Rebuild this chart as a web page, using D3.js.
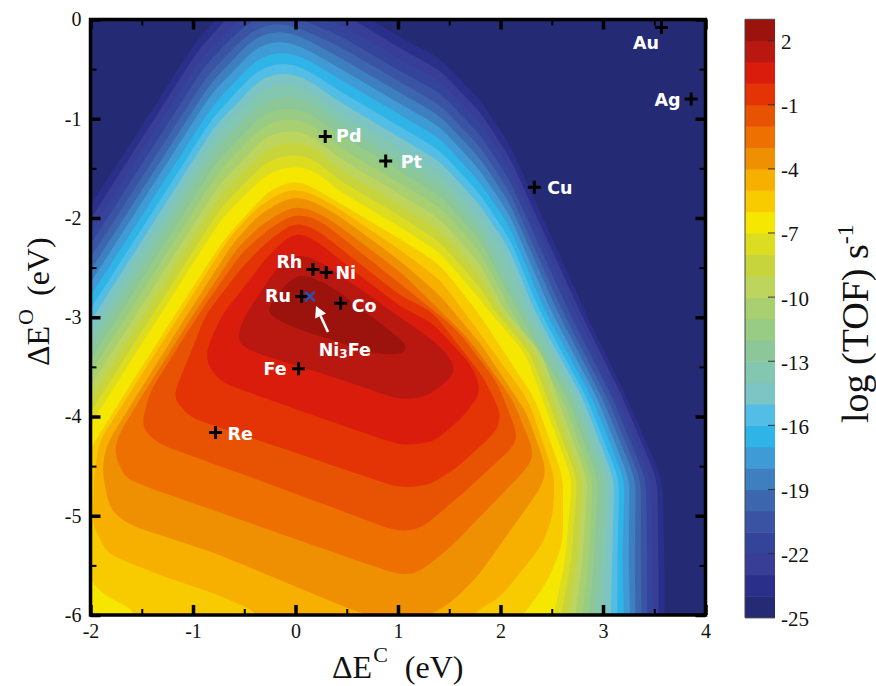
<!DOCTYPE html>
<html><head><meta charset="utf-8">
<style>
html,body{margin:0;padding:0;background:#fff}
svg{display:block}
text{font-family:"Liberation Serif",serif;fill:#111}
.elem{font-family:"DejaVu Sans",sans-serif;font-weight:bold;font-size:17.5px;fill:#fff}
</style>
<script src="https://cdnjs.cloudflare.com/ajax/libs/d3/7.8.5/d3.min.js"></script>
</head><body>
<svg id="chart" width="876" height="686"></svg>
<script>
// log(TOF) level of the lower edge of each band, from -25 to 2
const bandFloors = d3.range(-25, 3);
const bandColors = ["#252a74","#2a2f8a","#383e96","#35449b","#3a54a3","#3c66ad","#3e7fc0","#3f9bd5","#2fb4e8","#52bde5","#7dc4c4","#84c7b0","#8cc79a","#98cc84","#a9d070","#bdd55c","#c7d43c","#dcdc20","#f6e700","#f8cb00","#f7af00","#ee9002","#ee7001","#e85203","#e43304","#da1c0c","#b91810","#9c120c"];
const colorTicks = [2,-1,-4,-7,-10,-13,-16,-19,-22,-25];
const xTicks = [-2,-1,0,1,2,3,4];
const yTicks = [0,-1,-2,-3,-4,-5,-6];
const xMinor = [-1.5,-0.5,0.5,1.5,2.5,3.5];
const yMinor = [-0.5,-1.5,-2.5,-3.5,-4.5,-5.5];
const offPlotCorner = [-2.4,-6.45];

// contour lines, [dE_C, dE_O] in eV
const cM24=[[-2.40,-2.52],[-.97,-.22],[-.70,.09],[-.45,.27],[-.24,.34],[-.02,.29],[.43,.19],[1.02,-.18],[1.41,-.39],[1.80,-.81],[2.09,-1.26],[2.82,-2.93],[3.24,-3.83],[3.58,-4.64],[3.60,-5.45],[3.60,-6.25]];
const cM23=[[-2.40,-2.66],[-.95,-.31],[-.68,0],[-.44,.18],[-.23,.25],[-.01,.20],[.43,.08],[1.02,-.29],[1.41,-.51],[1.80,-.93],[2.09,-1.39],[2.77,-2.93],[3.20,-3.83],[3.53,-4.64],[3.54,-5.45],[3.54,-6.25]];
const cM22=[[-2.40,-2.79],[-.93,-.40],[-.65,-.10],[-.42,.09],[-.21,.16],[0,.11],[.43,-.04],[1.02,-.40],[1.41,-.62],[1.80,-1.04],[2.09,-1.50],[2.72,-2.93],[3.15,-3.83],[3.47,-4.64],[3.48,-5.45],[3.49,-6.25]];
const cM21=[[-2.40,-2.91],[-.90,-.49],[-.63,-.19],[-.41,0],[-.20,.07],[.01,.02],[.43,-.16],[1.02,-.52],[1.41,-.74],[1.80,-1.16],[2.09,-1.62],[2.66,-2.93],[3.10,-3.83],[3.42,-4.64],[3.43,-5.45],[3.43,-6.25]];
const cM20=[[-2.40,-3.04],[-.87,-.58],[-.60,-.28],[-.40,-.10],[-.19,-.03],[.02,-.08],[.43,-.27],[1.02,-.63],[1.41,-.86],[1.80,-1.28],[2.09,-1.74],[2.60,-2.93],[3.05,-3.83],[3.37,-4.64],[3.37,-5.45],[3.38,-6.25]];
const cM19=[[-2.40,-3.17],[-.84,-.66],[-.57,-.36],[-.40,-.18],[-.18,-.11],[.03,-.16],[.43,-.38],[1.02,-.74],[1.41,-.97],[1.80,-1.40],[2.09,-1.85],[2.55,-2.93],[3.00,-3.83],[3.32,-4.64],[3.31,-5.45],[3.32,-6.25]];
const cM18=[[-2.40,-3.30],[-.83,-.76],[-.55,-.46],[-.39,-.28],[-.17,-.21],[.04,-.26],[.43,-.49],[1.02,-.85],[1.41,-1.08],[1.80,-1.52],[2.09,-1.97],[2.49,-2.93],[2.95,-3.83],[3.26,-4.64],[3.25,-5.45],[3.27,-6.25]];
const cM17=[[-2.40,-3.43],[-.81,-.87],[-.54,-.57],[-.37,-.39],[-.15,-.32],[.06,-.37],[.43,-.60],[1.02,-.96],[1.41,-1.20],[1.80,-1.64],[2.09,-2.09],[2.43,-2.93],[2.90,-3.83],[3.21,-4.64],[3.19,-5.45],[3.21,-6.25]];
const cM16=[[-2.40,-3.56],[-.80,-.98],[-.53,-.68],[-.36,-.50],[-.14,-.43],[.07,-.48],[.43,-.72],[1.02,-1.08],[1.41,-1.32],[1.80,-1.76],[2.09,-2.21],[2.38,-2.93],[2.85,-3.83],[3.16,-4.64],[3.14,-5.45],[3.14,-6.25]];
const cM15=[[-2.40,-3.69],[-.79,-1.08],[-.51,-.78],[-.35,-.60],[-.13,-.53],[.08,-.58],[.43,-.83],[1.02,-1.19],[1.41,-1.43],[1.80,-1.87],[2.09,-2.32],[2.33,-2.93],[2.81,-3.83],[3.11,-4.64],[3.09,-5.45],[3.07,-6.25]];
const cM14=[[-2.40,-3.82],[-.78,-1.19],[-.50,-.89],[-.34,-.71],[-.12,-.64],[.09,-.69],[.43,-.94],[1.02,-1.30],[1.41,-1.55],[1.80,-1.99],[2.07,-2.44],[2.27,-2.93],[2.76,-3.83],[3.06,-4.64],[3.03,-5.45],[2.99,-6.25]];
const cM13=[[-2.40,-3.95],[-.78,-1.31],[-.50,-1.01],[-.32,-.83],[-.10,-.76],[.11,-.81],[.43,-1.05],[1.02,-1.42],[1.41,-1.67],[1.80,-2.11],[2.21,-2.93],[2.71,-3.83],[3.01,-4.64],[2.97,-5.45],[2.92,-6.25]];
const cM12=[[-2.40,-4.08],[-.77,-1.44],[-.49,-1.13],[-.31,-.95],[-.09,-.88],[.12,-.93],[.43,-1.16],[1.02,-1.53],[1.41,-1.78],[1.80,-2.22],[2.16,-2.93],[2.66,-3.83],[2.95,-4.64],[2.91,-5.45],[2.84,-6.25]];
const cM11=[[-2.40,-4.21],[-.76,-1.55],[-.48,-1.24],[-.30,-1.06],[-.08,-.99],[.13,-1.04],[.43,-1.29],[1.02,-1.65],[1.41,-1.89],[1.80,-2.34],[2.10,-2.93],[2.61,-3.83],[2.90,-4.64],[2.86,-5.45],[2.77,-6.25]];
const cM10=[[-2.40,-4.34],[-.75,-1.67],[-.47,-1.37],[-.29,-1.18],[-.07,-1.11],[.14,-1.16],[.43,-1.40],[1.02,-1.76],[1.41,-2.01],[1.80,-2.46],[2.04,-2.93],[2.40,-3.36],[2.56,-3.83],[2.85,-4.64],[2.80,-5.45],[2.70,-6.25]];
const cM9=[[-2.40,-4.47],[-.74,-1.78],[-.46,-1.48],[-.27,-1.30],[-.05,-1.22],[.16,-1.27],[.43,-1.51],[1.02,-1.87],[1.41,-2.12],[1.80,-2.58],[2.00,-2.93],[2.34,-3.36],[2.51,-3.83],[2.80,-4.64],[2.75,-5.45],[2.62,-6.25]];
const cM8=[[-2.40,-4.60],[-.73,-1.90],[-.45,-1.60],[-.26,-1.42],[-.04,-1.35],[.17,-1.40],[.43,-1.62],[1.02,-1.98],[1.41,-2.24],[1.80,-2.70],[1.94,-2.93],[2.29,-3.36],[2.46,-3.83],[2.75,-4.64],[2.69,-5.45],[2.55,-6.25]];
const cM7=[[-2.40,-4.73],[-.73,-2.02],[-.45,-1.72],[-.25,-1.54],[-.03,-1.47],[.18,-1.52],[.43,-1.73],[1.02,-2.09],[1.41,-2.35],[1.80,-2.82],[1.88,-2.93],[2.24,-3.36],[2.41,-3.83],[2.70,-4.64],[2.63,-5.45],[2.47,-6.25]];
const cM6=[[-1.66,-6.25],[-1.55,-5.97],[-1.86,-5.80],[-1.99,-5.68],[-2.10,-5.25],[-2.10,-4.64],[-2.00,-4.32],[-1.61,-3.68],[-1.18,-2.98],[-.70,-2.22],[-.44,-1.92],[-.25,-1.72],[-.02,-1.61],[.17,-1.69],[.43,-1.85],[1.02,-2.21],[1.41,-2.47],[1.78,-2.95],[2.34,-3.83],[2.61,-4.61],[2.61,-5.28],[2.45,-5.68],[2.24,-5.97],[2.04,-6.25]];
const cM5=[[-.49,-6.25],[-.35,-5.98],[-.80,-5.78],[-1.32,-5.60],[-1.84,-5.38],[-1.98,-5.08],[-1.96,-4.54],[-1.91,-4.24],[-1.13,-2.98],[-.66,-2.22],[-.42,-1.94],[-.23,-1.79],[-.01,-1.69],[.19,-1.77],[.43,-1.91],[1.02,-2.32],[1.41,-2.62],[1.72,-3.05],[2.27,-3.83],[2.53,-4.61],[2.51,-5.01],[2.39,-5.32],[2.00,-5.82],[1.75,-5.97],[1.56,-6.25]];
const cM4=[[1.02,-6.07],[.60,-5.97],[.04,-5.73],[-.80,-5.37],[-1.61,-5.10],[-1.81,-4.95],[-1.89,-4.54],[-1.85,-4.29],[-1.61,-3.89],[-1.06,-2.98],[-.62,-2.27],[-.39,-2.00],[-.21,-1.87],[0,-1.77],[.20,-1.85],[.43,-1.98],[1.02,-2.43],[1.41,-2.78],[1.80,-3.26],[2.26,-3.97],[2.45,-4.54],[2.40,-4.71],[1.77,-5.62],[1.51,-5.88],[1.34,-5.99]];
const cM3=[[1.02,-5.60],[.04,-5.25],[-1.42,-4.72],[-1.66,-4.62],[-1.77,-4.37],[-1.73,-4.19],[-1.52,-3.83],[-1.00,-2.98],[-.58,-2.32],[-.37,-2.10],[-.19,-1.97],[0,-1.87],[.22,-1.94],[.43,-2.08],[1.02,-2.54],[1.41,-2.93],[1.70,-3.23],[2.12,-3.83],[2.33,-4.37],[2.27,-4.51],[1.51,-5.32],[1.19,-5.58]];
const cM2=[[1.02,-5.17],[-.15,-4.72],[-1.35,-4.27],[-1.51,-4.11],[-1.42,-3.75],[-.95,-2.98],[-.54,-2.37],[-.33,-2.17],[-.17,-2.05],[.01,-1.95],[.24,-2.02],[.43,-2.18],[1.02,-2.66],[1.58,-3.13],[1.97,-3.66],[2.17,-4.19],[2.12,-4.31],[1.67,-4.74],[1.24,-5.12]];
const cM1=[[1.02,-4.72],[1.31,-4.69],[1.58,-4.51],[1.97,-4.14],[2.01,-3.97],[1.83,-3.60],[1.34,-2.95],[1.02,-2.78],[.43,-2.30],[.24,-2.14],[.02,-2.03],[-.15,-2.14],[-.33,-2.29],[-.54,-2.52],[-.88,-2.98],[-1.01,-3.33],[-1.20,-3.80],[-1.03,-4.01],[.04,-4.38]];
const c0=[[1.02,-4.29],[1.34,-4.26],[1.63,-4.01],[1.82,-3.74],[1.73,-3.50],[1.34,-3.06],[1.02,-2.89],[.43,-2.42],[.24,-2.25],[.02,-2.13],[-.13,-2.24],[-.30,-2.42],[-.49,-2.68],[-.72,-2.98],[-.85,-3.28],[-.88,-3.45],[-.74,-3.65],[.04,-3.94]];
const c1=[[1.02,-3.83],[1.28,-3.80],[1.48,-3.65],[1.56,-3.55],[1.51,-3.40],[1.34,-3.23],[1.02,-3.00],[.43,-2.57],[.24,-2.44],[.02,-2.35],[-.13,-2.44],[-.27,-2.63],[-.49,-2.98],[-.57,-3.18],[-.54,-3.28],[-.41,-3.35],[.24,-3.56]];
const c2=[[-.27,-2.90],[-.13,-2.70],[.04,-2.55],[.34,-2.68],[.73,-2.98],[1.12,-3.30],[1.02,-3.38],[.73,-3.36],[-.08,-3.08],[-.25,-2.98]];

const openContours = [cM24,cM23,cM22,cM21,cM20,cM19,cM18,cM17,cM16,cM15,cM14,cM13,cM12,cM11,cM10,cM9,cM8,cM7];
const closedContours = [cM6,cM5,cM4,cM3,cM2,cM1,c0,c1,c2];

// metals
const metalNames = ["Au","Ag","Pd","Pt","Cu","Rh","Ni","Ru","Co","Fe","Re"];
const metalC = [3.57,3.86,.29,.88,2.33,.17,.30,.06,.44,.03,-.78];
const metalO = [-.08,-.80,-1.18,-1.425,-1.69,-2.52,-2.55,-2.79,-2.86,-3.52,-4.16];
const labelC = [3.42,3.63,.52,1.13,2.58,-.06,.49,-.17,.67,-.20,-.54];
const labelO = [-.23,-.81,-1.17,-1.43,-1.69,-2.44,-2.55,-2.78,-2.88,-3.52,-4.17];
const alloy = {name:"Ni3Fe", c:.14, o:-2.79, labelC:.48, labelO:-3.33, arrowFrom:[.317,-3.149], arrowTo:[.20,-2.887]};

const svg = d3.select("#chart");
const x = d3.scaleLinear().domain([-2,4]).range([90.5,705.5]);
const y = d3.scaleLinear().domain([-6,0]).range([615,19.5]);
const cb = d3.scaleLinear().domain([-25,3]).range([617.7,19.3]);
const colorOf = d3.scaleOrdinal().domain(bandFloors).range(bandColors);

svg.append("defs").append("clipPath").attr("id","plot")
  .append("rect").attr("x",x(-2)).attr("y",y(0)).attr("width",x(4)-x(-2)).attr("height",y(-6)-y(0));

const plot = svg.append("g").attr("clip-path","url(#plot)");
plot.append("rect").attr("x",x(-2)).attr("y",y(0)).attr("width",x(4)-x(-2)).attr("height",y(-6)-y(0)).attr("fill",colorOf(-25));

// the basis spline only rounds the corners: long edges are subdivided so they stay straight
function toPixels(pts, step){
  const out=[];
  pts.forEach((p,i)=>{
    const q=pts[(i+1)%pts.length];
    const a=[x(p[0]),y(p[1])], b=[x(q[0]),y(q[1])];
    const n=Math.max(1,Math.ceil(Math.hypot(b[0]-a[0],b[1]-a[1])/step));
    for(let k=0;k<n;k++) out.push([a[0]+(b[0]-a[0])*k/n,a[1]+(b[1]-a[1])*k/n]);
  });
  return out;
}
const line = d3.line().curve(d3.curveBasisClosed);
const shapes = openContours.map(c=>c.concat([offPlotCorner])).concat(closedContours);
plot.selectAll("path.band").data(shapes).join("path").attr("class","band")
  .attr("d",d=>line(toPixels(d,26))).attr("fill",(d,i)=>colorOf(-24+i));

// frame and axes
function styleAxis(g,w){g.select(".domain").remove();g.selectAll("line").attr("stroke","#000").attr("stroke-width",w);g.selectAll("text").attr("font-size",20).attr("font-family","Liberation Serif").attr("fill","#111");}
const fmt = d=>String(d);
svg.append("g").attr("transform",`translate(0,${y(-6)})`).call(d3.axisBottom(x).tickValues(xTicks).tickSize(-10).tickPadding(9).tickFormat(fmt)).call(styleAxis,3.5);
svg.append("g").attr("transform",`translate(0,${y(-6)})`).call(d3.axisBottom(x).tickValues(xMinor).tickSize(-6).tickFormat("")).call(styleAxis,2);
svg.append("g").attr("transform",`translate(0,${y(0)})`).call(d3.axisTop(x).tickValues(xTicks).tickSize(-10).tickFormat("")).call(styleAxis,3.5);
svg.append("g").attr("transform",`translate(0,${y(0)})`).call(d3.axisTop(x).tickValues(xMinor).tickSize(-6).tickFormat("")).call(styleAxis,2);
svg.append("g").attr("transform",`translate(${x(-2)},0)`).call(d3.axisLeft(y).tickValues(yTicks).tickSize(-10).tickPadding(9).tickFormat(fmt)).call(styleAxis,3.5);
svg.append("g").attr("transform",`translate(${x(-2)},0)`).call(d3.axisLeft(y).tickValues(yMinor).tickSize(-6).tickFormat("")).call(styleAxis,2);
svg.append("g").attr("transform",`translate(${x(4)},0)`).call(d3.axisRight(y).tickValues(yTicks).tickSize(-10).tickFormat("")).call(styleAxis,3.5);
svg.append("g").attr("transform",`translate(${x(4)},0)`).call(d3.axisRight(y).tickValues(yMinor).tickSize(-6).tickFormat("")).call(styleAxis,2);
svg.append("rect").attr("x",x(-2)).attr("y",y(0)).attr("width",x(4)-x(-2)).attr("height",y(-6)-y(0)).attr("fill","none").attr("stroke","#000").attr("stroke-width",3.5);

// markers
const marks = svg.append("g");
metalNames.forEach((n,i)=>{
  const px=x(metalC[i]),py=y(metalO[i]);
  marks.append("path").attr("d",`M${px-6.5},${py}H${px+6.5}M${px},${py-6.5}V${py+6.5}`).attr("stroke","#000").attr("stroke-width",3).attr("fill","none");
  svg.append("text").attr("class","elem").attr("x",x(labelC[i])).attr("y",y(labelO[i])).attr("text-anchor","middle").attr("dy","0.36em").text(n);
});
{
  const px=x(alloy.c),py=y(alloy.o),r=4.8;
  marks.append("path").attr("d",`M${px-r},${py-r}L${px+r},${py+r}M${px-r},${py+r}L${px+r},${py-r}`).attr("stroke","#2f4fb0").attr("stroke-width",2.6).attr("fill","none");
  const t=svg.append("text").attr("class","elem").attr("x",x(alloy.labelC)).attr("y",y(alloy.labelO)).attr("text-anchor","middle").attr("dy","0.36em");
  t.append("tspan").text("Ni");
  t.append("tspan").attr("font-size",12).attr("dy",2).text("3");
  t.append("tspan").attr("dy",-2).text("Fe");
  const a=[x(alloy.arrowFrom[0]),y(alloy.arrowFrom[1])],b=[x(alloy.arrowTo[0]),y(alloy.arrowTo[1])];
  const ang=Math.atan2(b[1]-a[1],b[0]-a[0]),h=11,w=6;
  const base=[b[0]-h*Math.cos(ang),b[1]-h*Math.sin(ang)];
  svg.append("path").attr("d",`M${a}L${base}`).attr("stroke","#fff").attr("stroke-width",2.6);
  svg.append("path").attr("fill","#fff").attr("d",`M${b}L${base[0]-w*Math.sin(ang)},${base[1]+w*Math.cos(ang)}L${base[0]+w*Math.sin(ang)},${base[1]-w*Math.cos(ang)}Z`);
}

// axis titles
const xt=svg.append("text").attr("x",332).attr("y",678).attr("font-size",32);
xt.append("tspan").text("\u0394E");
xt.append("tspan").attr("font-size",22).attr("dy",-16).attr("dx",1).text("C");
xt.append("tspan").attr("dy",16).attr("dx",17).text("(eV)");
const yt=svg.append("text").attr("transform","translate(49,366) rotate(-90)").attr("font-size",32);
yt.append("tspan").text("\u0394E");
yt.append("tspan").attr("font-size",22).attr("dy",-16).attr("dx",1).text("O");
yt.append("tspan").attr("dy",16).attr("dx",13).text("(eV)");

// colour bar
const cbg=svg.append("g");
cbg.selectAll("rect").data(bandFloors).join("rect").attr("x",745).attr("width",30)
  .attr("y",d=>cb(d+1)).attr("height",d=>cb(d)-cb(d+1)+0.5).attr("fill",d=>colorOf(d));
cbg.append("path").attr("d",`M745,${cb(3)}V${cb(-25)}H775`).attr("fill","none").attr("stroke","#444").attr("stroke-width",1);
cbg.append("path").attr("d",`M745,${cb(3)}H775`).attr("fill","none").attr("stroke","#444").attr("stroke-width",1);
colorTicks.forEach(t=>{
  if(t!==-25) cbg.append("line").attr("x1",768).attr("x2",775).attr("y1",cb(t)).attr("y2",cb(t)).attr("stroke","#333").attr("stroke-width",1);
  cbg.append("text").attr("x",781).attr("y",cb(t)).attr("dy","0.4em").attr("font-size",21).text(t);
});
const ct=svg.append("text").attr("transform","translate(868,423) rotate(-90)").attr("font-size",38);
ct.append("tspan").text("log (TOF) s");
ct.append("tspan").attr("font-size",24).attr("dy",-15).text("-1");
</script>
</body></html>
